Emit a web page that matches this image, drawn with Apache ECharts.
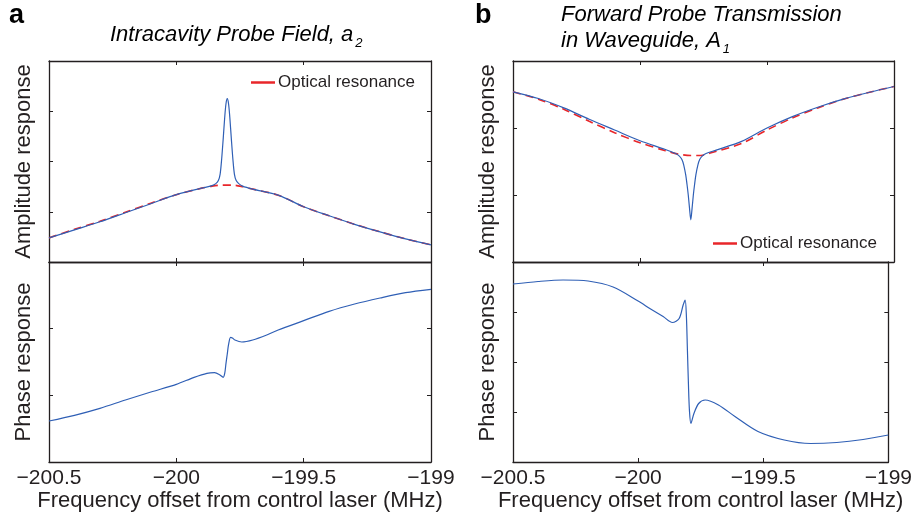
<!DOCTYPE html>
<html>
<head>
<meta charset="utf-8">
<script src="https://cdn.jsdelivr.net/npm/echarts@6/dist/echarts.min.js"></script>
<style>
  html, body { margin: 0; padding: 0; background: #fff; }
  #chart { width: 915px; height: 518px; }
</style>
</head>
<body>
<div id="chart"></div>
<script>
// x ticks shared by all four panels (MHz)
const xTicks = [-200.5, -200, -199.5, -199]

// panel a, intracavity probe field amplitude (blue)
const ampFreqA = [-200.5, -200.4, -200.3, -200.2, -200.1, -200.0, -199.9, -199.86, -199.845, -199.835, -199.828, -199.822, -199.816, -199.81, -199.805, -199.8,
  -199.795, -199.79, -199.784, -199.778, -199.772, -199.765, -199.755, -199.74, -199.7, -199.6, -199.5, -199.4, -199.3, -199.2, -199.1, -199.0]
const ampA = [0.48, 0.64, 0.80, 0.98, 1.16, 1.34, 1.47, 1.52, 1.56, 1.62, 1.75, 2.05, 2.45, 2.88, 3.15, 3.25,
  3.15, 2.88, 2.45, 2.05, 1.75, 1.62, 1.56, 1.51, 1.45, 1.33, 1.10, 0.92, 0.75, 0.60, 0.46, 0.34]
// panel a, optical resonance only (red dashed)
const resFreqA = [-200.5, -200.4, -200.3, -200.2, -200.1, -200.0, -199.9, -199.86, -199.82, -199.78, -199.74, -199.7, -199.6, -199.5, -199.4, -199.3, -199.2, -199.1, -199.0]
const resA = [0.48, 0.65, 0.81, 0.99, 1.17, 1.34, 1.47, 1.51, 1.53, 1.53, 1.50, 1.45, 1.33, 1.10, 0.92, 0.75, 0.60, 0.46, 0.34]
// panel a, phase
const phaseFreqA = [-200.5, -200.4, -200.3, -200.2, -200.1, -200.0, -199.93, -199.88, -199.85, -199.83, -199.816, -199.81, -199.805, -199.8, -199.795,
  -199.787, -199.78, -199.77, -199.743, -199.7, -199.645, -199.6, -199.5, -199.4, -199.3, -199.2, -199.1, -199.0]
const phaseA = [0.615, 0.70, 0.805, 0.93, 1.05, 1.165, 1.27, 1.33, 1.34, 1.31, 1.27, 1.33, 1.48, 1.62, 1.76,
  1.87, 1.86, 1.83, 1.80, 1.83, 1.905, 1.98, 2.12, 2.26, 2.37, 2.46, 2.54, 2.59]

// panel b, forward transmission amplitude (blue)
const ampFreqB = [-200.5, -200.4, -200.3, -200.2, -200.1, -200.0, -199.9, -199.86, -199.845, -199.835, -199.828, -199.82, -199.815, -199.81, -199.805, -199.8,
  -199.795, -199.79, -199.785, -199.78, -199.772, -199.765, -199.755, -199.74, -199.7, -199.6, -199.5, -199.4, -199.3, -199.2, -199.1, -199.0]
const ampB = [2.54, 2.44, 2.30, 2.13, 1.97, 1.81, 1.68, 1.62, 1.58, 1.53, 1.45, 1.30, 1.16, 1.00, 0.80, 0.63,
  0.80, 1.00, 1.16, 1.30, 1.45, 1.53, 1.58, 1.62, 1.67, 1.80, 2.00, 2.17, 2.31, 2.43, 2.53, 2.62]
// panel b, optical resonance only (red dashed)
const resFreqB = [-200.5, -200.4, -200.3, -200.2, -200.1, -200.0, -199.9, -199.85, -199.8, -199.76, -199.72, -199.6, -199.5, -199.4, -199.3, -199.2, -199.1, -199.0]
const resB = [2.54, 2.43, 2.28, 2.10, 1.93, 1.78, 1.66, 1.61, 1.59, 1.59, 1.63, 1.77, 1.97, 2.15, 2.30, 2.43, 2.53, 2.62]
// panel b, phase
const phaseFreqB = [-200.5, -200.4, -200.3, -200.2, -200.1, -200.0, -199.95, -199.9, -199.863, -199.836, -199.82, -199.812, -199.807, -199.803, -199.799,
  -199.795, -199.789, -199.777, -199.758, -199.732, -199.679, -199.613, -199.521, -199.416, -199.311, -199.206, -199.101, -199.0]
const phaseB = [3.56, 3.61, 3.64, 3.62, 3.50, 3.22, 3.06, 2.91, 2.79, 2.87, 3.14, 3.24, 2.91, 2.24, 1.57,
  1.04, 0.77, 0.97, 1.17, 1.24, 1.14, 0.91, 0.61, 0.44, 0.37, 0.39, 0.45, 0.54]

const BLUE = '#2f5fb5'
const RED = '#e8262a'
const INK = '#231f20'
const FONT = 'Liberation Sans, Arial, sans-serif'

const pairs = (xs, ys) => xs.map((x, i) => [x, ys[i]])
const minus = v => String(v).replace('-', '\u2212')

// four boxes: [left, top, width, height, yMax]
const boxes = [
  [49, 61, 382, 201, 4],   // a amplitude
  [49, 262, 382, 200, 3],  // a phase
  [513, 61, 381, 201, 3],  // b amplitude
  [513, 262, 381, 200, 4]  // b phase
]

let grids = [], xAxes = [], yAxes = []
boxes.forEach((b, g) => {
  grids.push({ left: b[0], top: b[1], width: b[2], height: b[3], show: false })
  const isBottom = g % 2 === 1
  const common = {
    type: 'value', gridIndex: g, min: xTicks[0], max: xTicks[xTicks.length - 1], interval: 0.5,
    axisLine: { show: true, onZero: false, lineStyle: { color: INK, width: 1.3 } },
    axisTick: { show: true, inside: true, length: 4, lineStyle: { color: INK, width: 1 } },
    splitLine: { show: false }
  }
  xAxes.push(Object.assign({}, common, {
    position: 'bottom',
    axisLabel: {
      show: isBottom, color: INK, fontFamily: FONT, fontSize: 21, margin: 6,
      formatter: minus, showMinLabel: true, showMaxLabel: true
    },
    name: isBottom ? 'Frequency offset from control laser (MHz)' : '',
    nameLocation: 'middle', nameGap: 26,
    nameTextStyle: { color: INK, fontFamily: FONT, fontSize: 22 }
  }))
  xAxes.push(Object.assign({}, common, { position: 'top', axisLabel: { show: false } }))
  const yCommon = {
    type: 'value', gridIndex: g, min: 0, max: b[4], interval: 1,
    axisLine: { show: true, onZero: false, lineStyle: { color: INK, width: 1.3 } },
    axisTick: { show: true, inside: true, length: 4, lineStyle: { color: INK, width: 1 } },
    axisLabel: { show: false },
    splitLine: { show: false }
  }
  yAxes.push(Object.assign({}, yCommon, {
    position: 'left',
    name: isBottom ? 'Phase response' : 'Amplitude response',
    nameLocation: 'middle', nameGap: 14, nameRotate: 90,
    nameTextStyle: { color: INK, fontFamily: FONT, fontSize: 22 }
  }))
  yAxes.push(Object.assign({}, yCommon, { position: 'right' }))
})

const blueLine = (data, g) => ({
  type: 'line', data, xAxisIndex: g * 2, yAxisIndex: g * 2,
  showSymbol: false, smooth: 0.3, silent: true,
  lineStyle: { color: BLUE, width: 1.2 }, z: 3
})
const redLine = (data, g) => ({
  name: 'Optical resonance',
  type: 'line', data, xAxisIndex: g * 2, yAxisIndex: g * 2,
  showSymbol: false, smooth: 0.3, silent: true,
  itemStyle: { color: RED },
  lineStyle: { color: RED, width: 1.6, type: [8, 5] }, z: 2
})

const legendCommon = {
  data: ['Optical resonance'], icon: 'rect', itemWidth: 24, itemHeight: 2.5, itemGap: 4,
  selectedMode: false,
  textStyle: { color: INK, fontFamily: FONT, fontSize: 17, padding: [0, 0, 0, -2] }
}

// title text with a small subscript attached to the last letter
const titleRich = {
  m: { font: 'italic 22px ' + FONT, color: INK, lineHeight: 30, verticalAlign: 'middle' },
  s: { font: 'italic 13px ' + FONT, color: INK, lineHeight: 12, verticalAlign: 'bottom', padding: [0, 0, 0, 2] }
}

const option = {
  animation: false,
  backgroundColor: '#fff',
  grid: grids,
  xAxis: xAxes,
  yAxis: yAxes,
  legend: [
    Object.assign({ left: 246, top: 69 }, legendCommon),
    Object.assign({ left: 708, top: 230 }, legendCommon)
  ],
  graphic: [
    { type: 'text', left: 9, top: 2, style: { text: 'a', font: 'bold 27px ' + FONT, fill: '#000' } },
    { type: 'text', left: 475, top: 2, style: { text: 'b', font: 'bold 27px ' + FONT, fill: '#000' } },
    { type: 'text', left: 110, top: 24, style: { text: '{m|Intracavity Probe Field, a}{s|2}', rich: titleRich } },
    { type: 'text', left: 561, top: 4, style: { text: '{m|Forward Probe Transmission}', rich: titleRich } },
    { type: 'text', left: 561, top: 30, style: { text: '{m|in Waveguide, A}{s|1}', rich: titleRich } }
  ],
  series: [
    redLine(pairs(resFreqA, resA), 0),
    blueLine(pairs(ampFreqA, ampA), 0),
    blueLine(pairs(phaseFreqA, phaseA), 1),
    redLine(pairs(resFreqB, resB), 2),
    blueLine(pairs(ampFreqB, ampB), 2),
    blueLine(pairs(phaseFreqB, phaseB), 3)
  ]
}

const myChart = echarts.init(document.getElementById('chart'))
myChart.setOption(option)
</script>
</body>
</html>
